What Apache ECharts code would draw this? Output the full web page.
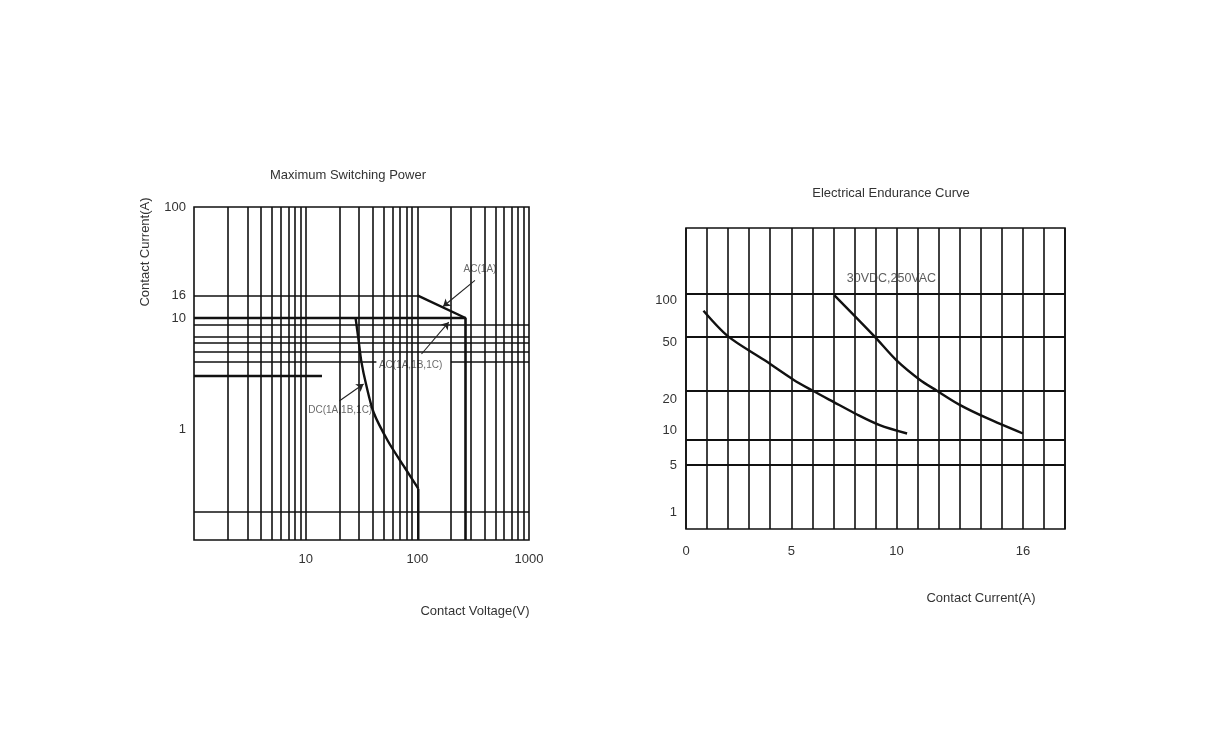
<!DOCTYPE html>
<html>
<head>
<meta charset="utf-8">
<title>Maximum Switching Power / Electrical Endurance Curve</title>
<script src="https://cdn.jsdelivr.net/npm/echarts@6.0.0/dist/echarts.min.js"></script>
<style>
  html, body { margin: 0; padding: 0; background: #fff; }
  #chart { width: 1218px; height: 756px; }
</style>
</head>
<body>
<div id="chart"></div>
<script>
// ---- Maximum Switching Power (log / log) ----
const voltageGrid = [2, 3, 4, 5, 6, 7, 8, 9, 10, 20, 30, 40, 50, 60, 70, 80, 90, 100,
  200, 300, 400, 500, 600, 700, 800, 900];
// horizontal guide lines: [current, fromVoltage, toVoltage]
const currentGrid = [
  [16, 1, 100], [8.7, 1, 1000], [6.8, 1, 1000], [6, 1, 1000], [5, 1, 1000],
  [4, 1, 43], [4, 200, 1000], [0.18, 1, 1000],
];
const heavyGuideVoltage = [1, 14];
const heavyGuideCurrent = [3, 3];

const acSingleVoltage = [100, 270];
const acSingleCurrent = [16, 10];
const acAllVoltage = [1, 270, 270];
const acAllCurrent = [10, 10, 0.1];
const dcVoltage = [28, 29.8, 31.6, 34.7, 40.7, 54.5, 77, 102, 102];
const dcCurrent = [10, 6.25, 4.0, 2.54, 1.4, 0.78, 0.45, 0.29, 0.1];

const notes = [
  { text: 'AC(1A)', at: [364, 27.5], from: [328, 21.8], to: [170, 12.7] },
  { text: 'AC(1A,1B,1C)', at: [87, 3.77], from: [109, 4.74], to: [191, 9.16] },
  { text: 'DC(1A,1B,1C)', at: [20.4, 1.47], from: [20, 1.79], to: [33, 2.54] },
];

// ---- Electrical Endurance Curve ----
const currentTicks = [0, 5, 10, 16];
const enduranceLabels = [1, 5, 10, 20, 50, 100];
const enduranceGrid = [5, 10, 20, 50, 100];
const lowCurrent = [0.83, 2.0, 3.7, 5.1, 6.0, 7.0, 8.1, 9.2, 10.5];
const lowEndurance = [80, 50, 37, 26, 20, 17.7, 15.2, 13.0, 11.3];
const highCurrent = [7.05, 8.95, 10.0, 11.1, 11.9, 13.0, 14.3, 16.0];
const highEndurance = [98, 50, 36.7, 26, 20, 17.1, 14.4, 11.3];
const ratingText = '30VDC,250VAC';

// the endurance axis of the drawing is schematic, not log: level of each labelled value
const enduranceAnchorLevel = [5.4, 21.5, 29.6, 46.0, 64.0, 78.2];
const labelNudge = [0, 1, -9, 9.3, 5.6, 6.7]; // px, + moves label down

function toLevel(v) {
  const a = enduranceLabels;
  const l = enduranceAnchorLevel;
  let i = 0;
  while (i < a.length - 2 && v > a[i + 1]) i++;
  return l[i] + (v - a[i]) / (a[i + 1] - a[i]) * (l[i + 1] - l[i]);
}

const zip = (xs, ys) => xs.map((x, i) => [x, ys[i]]);

const INK = '#111';
const TEXT = '#333';
const FONT = '"Liberation Sans", Arial, sans-serif';
const thin = { color: INK, width: 1.6, type: 'solid' };

const rich = {};
labelNudge.forEach((d, i) => {
  rich['n' + i] = {
    fontSize: 13, fontFamily: FONT, color: TEXT,
    padding: d >= 0 ? [2 * d, 0, 0, 0] : [0, 0, -2 * d, 0],
  };
});

const option = {
  animation: false,
  backgroundColor: '#fff',
  grid: [
    { left: 194, top: 207, width: 335, height: 333, show: true, borderColor: INK, borderWidth: 1.6 },
    { left: 686, top: 228, width: 379, height: 301, show: true, borderColor: INK, borderWidth: 1.6 },
  ],
  xAxis: [
    {
      gridIndex: 0, type: 'log', logBase: 10, min: 1, max: 1000,
      axisLine: { show: false }, axisTick: { show: false }, splitLine: { show: false },
      axisLabel: {
        color: TEXT, fontSize: 13, fontFamily: FONT, margin: 13, showMaxLabel: true,
        formatter: (v) => (v < 2 ? '' : String(Math.round(v))),
      },
    },
    {
      gridIndex: 1, type: 'value', min: 0, max: 18, interval: 1,
      axisLine: { show: false }, axisTick: { show: false },
      splitLine: { show: true, lineStyle: thin },
      axisLabel: {
        color: TEXT, fontSize: 13, fontFamily: FONT, margin: 16,
        customValues: currentTicks,
      },
    },
  ],
  yAxis: [
    {
      gridIndex: 0, type: 'log', logBase: 10, min: 0.1, max: 100,
      axisLine: { show: false }, axisTick: { show: false }, splitLine: { show: false },
      axisLabel: {
        color: TEXT, fontSize: 13, fontFamily: FONT, margin: 8,
        formatter: (v) => (v < 0.5 ? '' : String(Math.round(v))),
      },
    },
    {
      gridIndex: 1, type: 'value', min: 0, max: 100,
      axisLine: { show: false }, axisTick: { show: false }, splitLine: { show: false },
      axisLabel: {
        margin: 9,
        customValues: enduranceLabels.map(toLevel),
        formatter: (v) => {
          const i = enduranceLabels.findIndex((e) => Math.abs(toLevel(e) - v) < 1e-6);
          return i < 0 ? '' : '{n' + i + '|' + enduranceLabels[i] + '}';
        },
        rich,
      },
    },
  ],
  graphic: [
    { type: 'text', x: 348, y: 175, style: { text: 'Maximum Switching Power', fontSize: 13, fontFamily: FONT, fill: TEXT, align: 'center', verticalAlign: 'middle' } },
    { type: 'text', x: 891, y: 193, style: { text: 'Electrical Endurance Curve', fontSize: 13, fontFamily: FONT, fill: TEXT, align: 'center', verticalAlign: 'middle' } },
    { type: 'text', x: 145, y: 252, rotation: Math.PI / 2, style: { text: 'Contact Current(A)', fontSize: 13, fontFamily: FONT, fill: TEXT, align: 'center', verticalAlign: 'middle' } },
    { type: 'text', x: 475, y: 611, style: { text: 'Contact Voltage(V)', fontSize: 13, fontFamily: FONT, fill: TEXT, align: 'center', verticalAlign: 'middle' } },
    { type: 'text', x: 981, y: 598, style: { text: 'Contact Current(A)', fontSize: 13, fontFamily: FONT, fill: TEXT, align: 'center', verticalAlign: 'middle' } },
  ],
  series: [
    // left grid lines
    {
      type: 'line', xAxisIndex: 0, yAxisIndex: 0, data: [], silent: true,
      markLine: {
        silent: true, symbol: ['none', 'none'], lineStyle: thin,
        label: { show: false },
        emphasis: { disabled: true },
        data: [
          ...voltageGrid.map((v) => ({ xAxis: v })),
          ...currentGrid.map(([c, v0, v1]) => [
            { coord: [v0, c], label: c === 16 ? { show: true, position: 'start', formatter: '16', color: TEXT, fontSize: 13, fontFamily: FONT, distance: 8 } : { show: false } },
            { coord: [v1, c] },
          ]),
        ],
      },
    },
    {
      type: 'line', xAxisIndex: 0, yAxisIndex: 0, showSymbol: false, silent: true,
      lineStyle: { color: INK, width: 2.6 },
      data: zip(heavyGuideVoltage, heavyGuideCurrent),
    },
    {
      name: 'AC(1A)', type: 'line', xAxisIndex: 0, yAxisIndex: 0, showSymbol: false, silent: true,
      lineStyle: { color: INK, width: 2.4 },
      data: zip(acSingleVoltage, acSingleCurrent),
    },
    {
      name: 'AC(1A,1B,1C)', type: 'line', xAxisIndex: 0, yAxisIndex: 0, showSymbol: false, silent: true,
      lineStyle: { color: INK, width: 2.6 },
      data: zip(acAllVoltage, acAllCurrent),
    },
    {
      name: 'DC(1A,1B,1C)', type: 'line', xAxisIndex: 0, yAxisIndex: 0, showSymbol: false, silent: true,
      smooth: 0.3, lineStyle: { color: INK, width: 2.4 },
      data: zip(dcVoltage, dcCurrent).slice(0, -1),
    },
    {
      type: 'line', xAxisIndex: 0, yAxisIndex: 0, showSymbol: false, silent: true,
      lineStyle: { color: INK, width: 2.4 },
      data: zip(dcVoltage, dcCurrent).slice(-2),
    },
    // annotations
    {
      type: 'scatter', xAxisIndex: 0, yAxisIndex: 0, symbolSize: 0, silent: true,
      data: notes.map((n) => ({ value: n.at, name: n.text })),
      label: { show: true, position: 'inside', formatter: '{b}', color: '#444', fontSize: 10, fontFamily: FONT },
      markLine: {
        silent: true, symbol: ['none', 'arrow'], symbolSize: 7,
        lineStyle: { color: '#222', width: 1.1, type: 'solid' },
        label: { show: false },
        data: notes.map((n) => [{ coord: n.from }, { coord: n.to }]),
      },
    },
    // right chart
    {
      type: 'line', xAxisIndex: 1, yAxisIndex: 1, showSymbol: false, silent: true,
      smooth: 0.3, lineStyle: { color: INK, width: 2.4 },
      data: lowCurrent.map((c, i) => [c, toLevel(lowEndurance[i])]),
      markLine: {
        silent: true, symbol: ['none', 'none'], lineStyle: { color: INK, width: 1.8, type: 'solid' },
        label: { show: false },
        data: enduranceGrid.map((e) => ({ yAxis: toLevel(e) })),
      },
    },
    {
      type: 'line', xAxisIndex: 1, yAxisIndex: 1, showSymbol: false, silent: true,
      smooth: 0.3, lineStyle: { color: INK, width: 2.4 },
      data: highCurrent.map((c, i) => [c, toLevel(highEndurance[i])]),
    },
    {
      type: 'scatter', xAxisIndex: 1, yAxisIndex: 1, symbolSize: 0, silent: true,
      data: [[highCurrent[0], toLevel(highEndurance[0])]],
      label: {
        show: true, position: 'top', offset: [57, -5], formatter: ratingText,
        color: '#333', fontSize: 12.5, fontFamily: FONT,
      },
    },
  ],
};

const chart = echarts.init(document.getElementById('chart'));
chart.setOption(option);
</script>
</body>
</html>
